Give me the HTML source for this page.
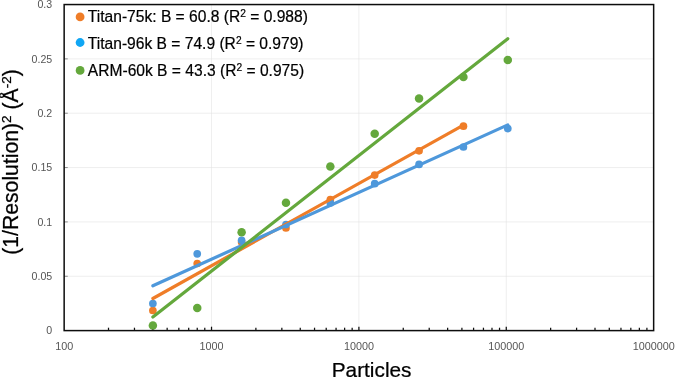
<!DOCTYPE html>
<html lang="en"><head><meta charset="utf-8"><title>B-factor plot</title>
<style>html,body{margin:0;padding:0;background:#fff;overflow:hidden}svg{display:block}text{font-family:"Liberation Sans",sans-serif}</style></head><body>
<svg xmlns="http://www.w3.org/2000/svg" width="675" height="378" viewBox="0 0 675 378">
<rect width="675" height="378" fill="#fff"/>
<g stroke="#E0E0E0" stroke-width="0.55" fill="none">
<line x1="64.15" x2="653.65" y1="276.26" y2="276.26"/>
<line x1="64.15" x2="653.65" y1="221.92" y2="221.92"/>
<line x1="64.15" x2="653.65" y1="167.57" y2="167.57"/>
<line x1="64.15" x2="653.65" y1="113.23" y2="113.23"/>
<line x1="64.15" x2="653.65" y1="58.89" y2="58.89"/>
<line y1="4.55" y2="330.6" x1="211.53" x2="211.53"/>
<line y1="4.55" y2="330.6" x1="358.90" x2="358.90"/>
<line y1="4.55" y2="330.6" x1="506.27" x2="506.27"/>
</g>
<g stroke="#111" stroke-width="1.25" fill="none">
<line x1="108.51" x2="108.51" y1="330.6" y2="327.70"/>
<line x1="134.47" x2="134.47" y1="330.6" y2="327.70"/>
<line x1="152.88" x2="152.88" y1="330.6" y2="327.70"/>
<line x1="167.16" x2="167.16" y1="330.6" y2="327.70"/>
<line x1="178.83" x2="178.83" y1="330.6" y2="327.70"/>
<line x1="188.70" x2="188.70" y1="330.6" y2="327.70"/>
<line x1="197.24" x2="197.24" y1="330.6" y2="327.70"/>
<line x1="204.78" x2="204.78" y1="330.6" y2="327.70"/>
<line x1="255.89" x2="255.89" y1="330.6" y2="327.70"/>
<line x1="281.84" x2="281.84" y1="330.6" y2="327.70"/>
<line x1="300.25" x2="300.25" y1="330.6" y2="327.70"/>
<line x1="314.54" x2="314.54" y1="330.6" y2="327.70"/>
<line x1="326.21" x2="326.21" y1="330.6" y2="327.70"/>
<line x1="336.07" x2="336.07" y1="330.6" y2="327.70"/>
<line x1="344.62" x2="344.62" y1="330.6" y2="327.70"/>
<line x1="352.16" x2="352.16" y1="330.6" y2="327.70"/>
<line x1="403.26" x2="403.26" y1="330.6" y2="327.70"/>
<line x1="429.22" x2="429.22" y1="330.6" y2="327.70"/>
<line x1="447.63" x2="447.63" y1="330.6" y2="327.70"/>
<line x1="461.91" x2="461.91" y1="330.6" y2="327.70"/>
<line x1="473.58" x2="473.58" y1="330.6" y2="327.70"/>
<line x1="483.45" x2="483.45" y1="330.6" y2="327.70"/>
<line x1="491.99" x2="491.99" y1="330.6" y2="327.70"/>
<line x1="499.53" x2="499.53" y1="330.6" y2="327.70"/>
<line x1="550.64" x2="550.64" y1="330.6" y2="327.70"/>
<line x1="576.59" x2="576.59" y1="330.6" y2="327.70"/>
<line x1="595.00" x2="595.00" y1="330.6" y2="327.70"/>
<line x1="609.29" x2="609.29" y1="330.6" y2="327.70"/>
<line x1="620.96" x2="620.96" y1="330.6" y2="327.70"/>
<line x1="630.82" x2="630.82" y1="330.6" y2="327.70"/>
<line x1="639.37" x2="639.37" y1="330.6" y2="327.70"/>
<line x1="646.91" x2="646.91" y1="330.6" y2="327.70"/>
<line x1="211.53" x2="211.53" y1="330.6" y2="326.70"/>
<line x1="358.90" x2="358.90" y1="330.6" y2="326.70"/>
<line x1="506.27" x2="506.27" y1="330.6" y2="326.70"/>
</g>
<g stroke="#444" stroke-width="0.6" fill="none">
<line x1="64.15" x2="67.75" y1="276.26" y2="276.26"/>
<line x1="64.15" x2="67.75" y1="221.92" y2="221.92"/>
<line x1="64.15" x2="67.75" y1="167.57" y2="167.57"/>
<line x1="64.15" x2="67.75" y1="113.23" y2="113.23"/>
<line x1="64.15" x2="67.75" y1="58.89" y2="58.89"/>
</g>
<g fill="#EF7D28">
<circle cx="152.88" cy="310.5" r="3.85"/>
<circle cx="197.24" cy="263.5" r="3.85"/>
<circle cx="241.61" cy="242.0" r="3.85"/>
<circle cx="285.97" cy="228.0" r="3.85"/>
<circle cx="330.34" cy="199.5" r="3.85"/>
<circle cx="374.70" cy="175.1" r="3.85"/>
<circle cx="419.06" cy="150.8" r="3.85"/>
<circle cx="463.43" cy="126.2" r="3.85"/>
</g>
<g fill="#4E98DB">
<circle cx="152.88" cy="303.5" r="3.85"/>
<circle cx="197.24" cy="253.8" r="3.85"/>
<circle cx="241.61" cy="240.3" r="3.85"/>
<circle cx="285.97" cy="224.6" r="3.85"/>
<circle cx="330.34" cy="203.1" r="3.85"/>
<circle cx="374.70" cy="183.7" r="3.85"/>
<circle cx="419.06" cy="164.4" r="3.85"/>
<circle cx="463.43" cy="147.0" r="3.85"/>
<circle cx="507.79" cy="128.6" r="3.85"/>
</g>
<g fill="#64A83C">
<circle cx="152.88" cy="325.5" r="4.25"/>
<circle cx="197.24" cy="307.9" r="4.25"/>
<circle cx="241.61" cy="232.2" r="4.25"/>
<circle cx="285.97" cy="202.7" r="4.25"/>
<circle cx="330.34" cy="166.5" r="4.25"/>
<circle cx="374.70" cy="133.8" r="4.25"/>
<circle cx="419.06" cy="98.6" r="4.25"/>
<circle cx="463.43" cy="77.0" r="4.25"/>
<circle cx="507.79" cy="59.9" r="4.25"/>
</g>
<line x1="152.88" y1="298.50" x2="463.43" y2="125.03" stroke="#EF7D28" stroke-width="3.2" stroke-linecap="round"/>
<line x1="152.88" y1="285.80" x2="507.79" y2="124.88" stroke="#4E98DB" stroke-width="3.2" stroke-linecap="round"/>
<line x1="152.88" y1="317.10" x2="507.79" y2="38.71" stroke="#64A83C" stroke-width="3.2" stroke-linecap="round"/>
<rect x="64.15" y="4.55" width="589.50" height="326.05" stroke="#0d0d0d" stroke-width="1.5" fill="none"/>
<g font-size="10.6" fill="#555" text-anchor="end">
<text x="52.2" y="334.30">0</text>
<text x="52.2" y="279.96">0.05</text>
<text x="52.2" y="225.62">0.1</text>
<text x="52.2" y="171.27">0.15</text>
<text x="52.2" y="116.93">0.2</text>
<text x="52.2" y="62.59">0.25</text>
<text x="52.2" y="8.25">0.3</text>
</g>
<g font-size="10.8" fill="#555" text-anchor="middle">
<text x="64.15" y="350.1">100</text>
<text x="211.53" y="350.1">1000</text>
<text x="358.90" y="350.1">10000</text>
<text x="506.27" y="350.1">100000</text>
<text x="653.65" y="350.1">1000000</text>
</g>
<text transform="translate(371.6 376.5) scale(1 0.96)" font-size="20.8" fill="#000" stroke="#000" stroke-width="0.25" text-anchor="middle">Particles</text>
<text transform="translate(18.4 162) rotate(-90)" font-size="21.2" fill="#000" stroke="#000" stroke-width="0.25" text-anchor="middle">(1/Resolution)<tspan font-size="13.5" dy="-7">2</tspan><tspan dy="7"> (Å</tspan><tspan font-size="13.5" dy="-7">-2</tspan><tspan dy="7">)</tspan></text>
<circle cx="80.1" cy="16.9" r="4.4" fill="#EF7D28"/>
<text x="87.8" y="21.7" font-size="15.6" fill="#000" stroke="#000" stroke-width="0.2">Titan-75k: B = 60.8 (R<tspan font-size="10.2" dy="-4.8">2</tspan><tspan dy="4.8"> = 0.988)</tspan></text>
<circle cx="80.1" cy="42.5" r="4.4" fill="#10A6F4"/>
<text x="87.8" y="48.6" font-size="15.6" fill="#000" stroke="#000" stroke-width="0.2">Titan-96k B = 74.9 (R<tspan font-size="10.2" dy="-4.8">2</tspan><tspan dy="4.8"> = 0.979)</tspan></text>
<circle cx="80.1" cy="70.4" r="4.4" fill="#64A83C"/>
<text x="87.8" y="76.2" font-size="15.6" fill="#000" stroke="#000" stroke-width="0.2">ARM-60k B = 43.3 (R<tspan font-size="10.2" dy="-4.8">2</tspan><tspan dy="4.8"> = 0.975)</tspan></text>
</svg></body></html>
